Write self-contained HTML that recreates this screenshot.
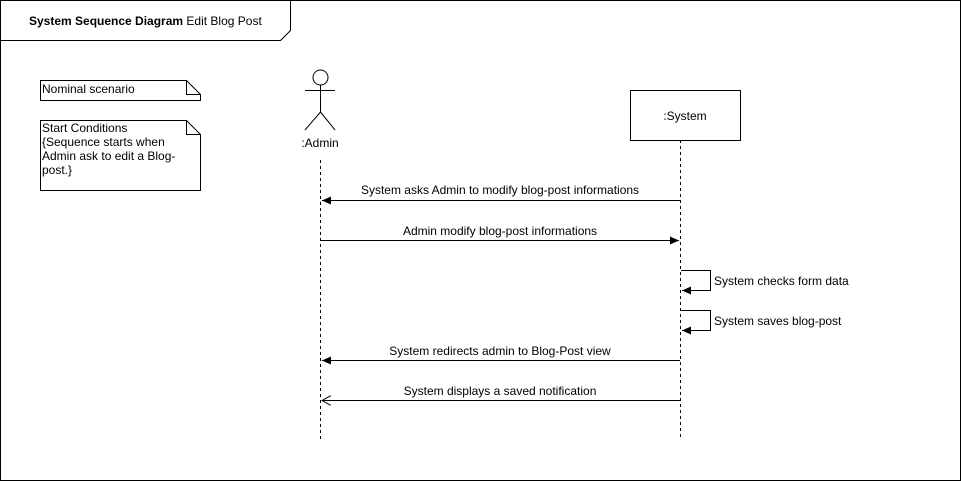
<!DOCTYPE html>
<html><head><style>body{margin:0;background:#fff}svg{display:block}text{font-family:"Liberation Sans",Arial,sans-serif;font-size:12px;fill:#000}</style></head><body>
<svg width="961" height="481" viewBox="0 0 961 481">
<defs>
<marker id="f" markerWidth="10" markerHeight="8" refX="9" refY="4" orient="auto" markerUnits="userSpaceOnUse"><path d="M0,0L9,4L0,8z" fill="#000"/></marker>
<marker id="o" markerWidth="10" markerHeight="10" refX="9" refY="5" orient="auto" markerUnits="userSpaceOnUse"><path d="M0,0L9,5L0,10" fill="none" stroke="#000"/></marker>
</defs>
<rect x="0.5" y="0.5" width="960" height="480" fill="#fff" stroke="#000"/>
<path d="M0.5,0.5H290.5V30.5L280.5,40.5H0.5" fill="none" stroke="#000"/>
<text x="29" y="25"><tspan font-weight="bold">System Sequence Diagram</tspan> Edit Blog Post</text>
<path d="M40.5,80.5H186.5L200.5,94.5V100.5H40.5Z M186.5,80.5V94.5H200.5" fill="#fff" stroke="#000"/>
<text x="42" y="93">Nominal scenario</text>
<path d="M40.5,120.5H186.5L200.5,134.5V190.5H40.5Z M186.5,120.5V134.5H200.5" fill="#fff" stroke="#000"/>
<text x="42" y="132">Start Conditions</text>
<text x="42" y="146">{Sequence starts when</text>
<text x="42" y="160">Admin ask to edit a Blog-</text>
<text x="42" y="174">post.}</text>
<g stroke="#000" fill="none">
<circle cx="320.5" cy="77.5" r="7.5" fill="#fff"/>
<path d="M320.5,85V112M305,90.5H335M320.5,112L305,130M320.5,112L335,130"/>
<path d="M320.5,160V440M680.5,140V440" stroke-dasharray="3,3"/>
<rect x="630.5" y="90.5" width="110" height="50" fill="#fff"/>
<path d="M680,200.5H322" marker-end="url(#f)"/>
<path d="M321,240.5H679" marker-end="url(#f)"/>
<path d="M681,270.5H710.5V290.5H682" marker-end="url(#f)"/>
<path d="M681,310.5H710.5V330.5H682" marker-end="url(#f)"/>
<path d="M680,360.5H322" marker-end="url(#f)"/>
<path d="M680,400.5H322" marker-end="url(#o)"/>
</g>
<text x="320" y="147" text-anchor="middle">:Admin</text>
<text x="685" y="120" text-anchor="middle">:System</text>
<text x="500" y="194" text-anchor="middle">System asks Admin to modify blog-post informations</text>
<text x="500" y="235" text-anchor="middle">Admin modify blog-post informations</text>
<text x="714" y="285">System checks form data</text>
<text x="714" y="325">System saves blog-post</text>
<text x="500" y="355" text-anchor="middle">System redirects admin to Blog-Post view</text>
<text x="500" y="395" text-anchor="middle">System displays a saved notification</text>
</svg>
</body></html>
